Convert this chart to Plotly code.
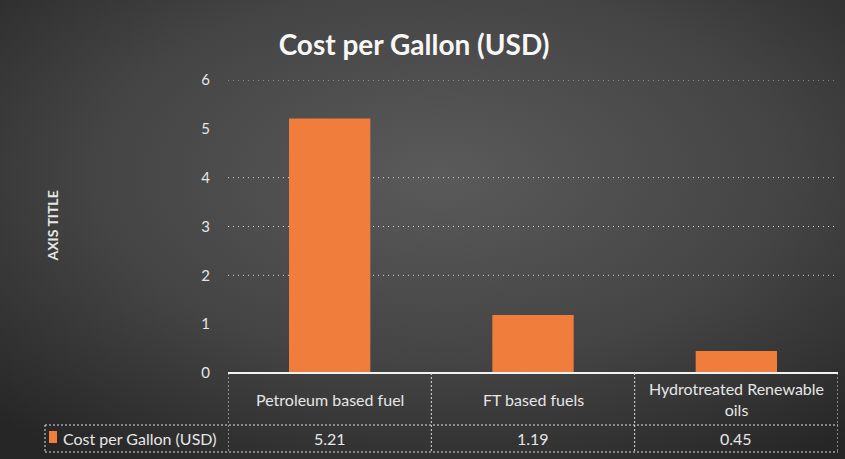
import base64
import plotly.graph_objects as go

categories = ["Petroleum based fuel", "FT based fuels", "Hydrotreated Renewable<br>oils"]
values = [5.21, 1.19, 0.45]
value_labels = ["5.21", "1.19", "0.45"]
series_name = "Cost per Gallon (USD)"
y_ticks = [0, 1, 2, 3, 4, 5, 6]
grid_values = [2, 3, 4, 6]

W, H = 845, 459
ML, MR, MT, MB = 228, 7, 80, 86
PW, PH = W - ML - MR, H - MT - MB

def py(px):  # pixel y -> paper y
    return (H - MB - px) / PH

def pxx(px):  # pixel x -> paper x
    return (px - ML) / PW

TEXT = "#e6e6e6"
FONT = "Lato"
BAR = "#f07d3c"

svg = f'''<svg xmlns="http://www.w3.org/2000/svg" width="{W}" height="{H}">
<defs><radialGradient id="g" cx="52%" cy="38%" r="75%" fx="52%" fy="38%">
<stop offset="0%" stop-color="#5a5a5a"/><stop offset="55%" stop-color="#444444"/>
<stop offset="100%" stop-color="#262626"/></radialGradient></defs>
<rect width="{W}" height="{H}" fill="url(#g)"/></svg>'''
src = "data:image/svg+xml;base64," + base64.b64encode(svg.encode()).decode()

fig = go.Figure()
fig.add_trace(go.Bar(
    x=list(range(len(values))), y=values, width=0.4,
    marker=dict(color=BAR, line=dict(width=0)),
    name=series_name, showlegend=False, hoverinfo="y",
))

GRIDDASH = "1px,4px"
shapes = []
for g in grid_values:
    shapes.append(dict(type="line", xref="paper", yref="y", x0=0, x1=1, y0=g, y1=g,
                       line=dict(color="rgba(235,235,235,0.85)", width=1, dash=GRIDDASH), layer="below"))

row1_bottom = py(425)
row2_bottom = py(452)
left_col = pxx(45)
n = len(categories)
TB = dict(color="#e0e0e0", width=1, dash="2px,2px")
shapes.append(dict(type="line", xref="paper", yref="paper", x0=0, x1=1, y0=0, y1=0,
                   line=dict(color="#f2f2f2", width=2)))
for i in range(n + 1):
    shapes.append(dict(type="line", xref="x", yref="paper", x0=i - 0.5, x1=i - 0.5,
                       y0=0, y1=row2_bottom, line=TB))
shapes.append(dict(type="line", xref="paper", yref="paper", x0=left_col, x1=left_col,
                   y0=row1_bottom, y1=row2_bottom, line=TB))
for yy in (row1_bottom, row2_bottom):
    shapes.append(dict(type="line", xref="paper", yref="paper", x0=left_col, x1=1,
                       y0=yy, y1=yy, line=TB))
shapes.append(dict(type="rect", xref="paper", yref="paper", x0=pxx(49), x1=pxx(57),
                   y0=py(443), y1=py(431), fillcolor=BAR, line=dict(width=0)))

CELLFONT = dict(family=FONT, size=16, color=TEXT)
annotations = []
for i, (c, v) in enumerate(zip(categories, value_labels)):
    annotations.append(dict(x=i, y=(0 + row1_bottom) / 2, xref="x", yref="paper", text=c,
                            showarrow=False, font=CELLFONT, xanchor="center", yanchor="middle"))
    annotations.append(dict(x=i, y=(row1_bottom + row2_bottom) / 2, xref="x", yref="paper", text=v,
                            showarrow=False, font=CELLFONT, xanchor="center", yanchor="middle"))
annotations.append(dict(x=pxx(61), y=(row1_bottom + row2_bottom) / 2, xref="paper", yref="paper",
                        text=series_name, showarrow=False, xanchor="left", yanchor="middle",
                        font=CELLFONT))
annotations.append(dict(x=pxx(52), y=0.5, xref="paper", yref="paper", text="<b>AXIS TITLE</b>",
                        textangle=-90, showarrow=False, xanchor="center", yanchor="middle",
                        font=dict(family=FONT, size=14, color=TEXT)))

fig.update_layout(
    width=W, height=H,
    margin=dict(l=ML, r=MR, t=MT, b=MB, pad=0),
    paper_bgcolor="#3a3a3a", plot_bgcolor="rgba(0,0,0,0)",
    title=dict(text="<b>Cost per Gallon (USD)</b>", x=pxx(414), xref="paper", xanchor="center",
               y=1 - 45 / H, yanchor="middle", font=dict(family=FONT, size=28, color="#f7f7f7")),
    xaxis=dict(range=[-0.5, n - 0.5], showticklabels=False, showgrid=False, zeroline=False,
               showline=False, fixedrange=True),
    yaxis=dict(range=[0, 6], tickvals=y_ticks, showgrid=False, zeroline=False, showline=False,
               ticks="outside", ticklen=14, tickcolor="rgba(0,0,0,0)",
               tickfont=dict(family=FONT, size=15, color=TEXT)),
    shapes=shapes, annotations=annotations,
    images=[dict(source=src, xref="paper", yref="paper", x=-ML / PW, y=1 + MT / PH,
                 sizex=W / PW, sizey=H / PH, sizing="stretch", xanchor="left", yanchor="top",
                 layer="below")],
    showlegend=False,
)

fig.write_html("out.html")
